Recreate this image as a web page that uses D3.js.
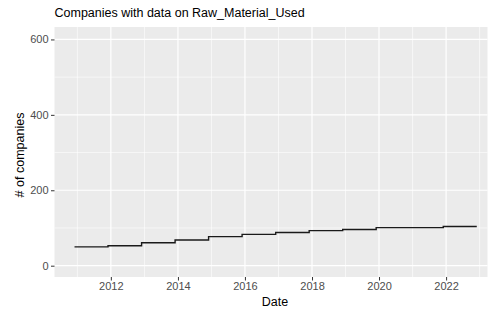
<!DOCTYPE html>
<html>
<head>
<meta charset="utf-8">
<script src="https://cdn.jsdelivr.net/npm/d3@7"></script>
<style>
  body { margin: 0; background: #fff; }
  svg { display: block; font-family: "Liberation Sans", Arial, sans-serif; }
</style>
</head>
<body>
<div id="chart"></div>
<script>
// step dates (count changes each December), last row closes the line
const dates = ["2010-12-01", "2011-12-01", "2012-12-01", "2013-12-01", "2014-12-01", "2015-12-01",
    "2016-12-01", "2017-12-01", "2018-12-01", "2019-12-01", "2020-12-01", "2021-12-01", "2022-12-01"];
const counts = [50, 53, 61, 68, 77, 83, 88, 93, 96, 101, 101, 104, 104];

const yTicks = [0, 200, 400, 600];
const yMinor = [100, 300, 500];
const xTickYears = [2012, 2014, 2016, 2018, 2020, 2022];
const xMinorYears = [2011, 2013, 2015, 2017, 2019, 2021, 2023];

const W = 489, H = 314;
const panel = { left: 54.5, right: 487.5, top: 27, bottom: 277 };

const parse = d3.timeParse("%Y-%m-%d");
const data = dates.map((d, i) => ({ date: parse(d), n: counts[i] }));

const svg = d3.select("#chart").append("svg")
    .attr("width", W)
    .attr("height", H);

const x = d3.scaleTime()
    .domain([new Date(2010, 3, 27), new Date(2023, 2, 28)])
    .range([panel.left, panel.right]);

const y = d3.scaleLinear()
    .domain([-30, 633])
    .range([panel.bottom, panel.top]);

// panel background
svg.append("rect")
    .attr("x", panel.left)
    .attr("y", panel.top)
    .attr("width", panel.right - panel.left)
    .attr("height", panel.bottom - panel.top)
    .attr("fill", "#ebebeb");

const grid = svg.append("g");

grid.selectAll(".ymin").data(yMinor).enter().append("line")
    .attr("x1", panel.left).attr("x2", panel.right)
    .attr("y1", d => y(d)).attr("y2", d => y(d))
    .attr("stroke", "#fff").attr("stroke-width", 0.6);

grid.selectAll(".xmin").data(xMinorYears).enter().append("line")
    .attr("x1", d => x(new Date(d, 0, 1))).attr("x2", d => x(new Date(d, 0, 1)))
    .attr("y1", panel.top).attr("y2", panel.bottom)
    .attr("stroke", "#fff").attr("stroke-width", 0.6);

grid.selectAll(".ymaj").data(yTicks).enter().append("line")
    .attr("x1", panel.left).attr("x2", panel.right)
    .attr("y1", d => y(d)).attr("y2", d => y(d))
    .attr("stroke", "#fff").attr("stroke-width", 1.2);

grid.selectAll(".xmaj").data(xTickYears).enter().append("line")
    .attr("x1", d => x(new Date(d, 0, 1))).attr("x2", d => x(new Date(d, 0, 1)))
    .attr("y1", panel.top).attr("y2", panel.bottom)
    .attr("stroke", "#fff").attr("stroke-width", 1.2);

// the line
const line = d3.line()
    .x(d => x(d.date))
    .y(d => y(d.n))
    .curve(d3.curveStepAfter);

svg.append("path")
    .datum(data)
    .attr("d", line)
    .attr("fill", "none")
    .attr("stroke", "#1a1a1a")
    .attr("stroke-width", 1.4);

// axes
const xAxis = svg.append("g")
    .attr("transform", `translate(0,${panel.bottom})`)
    .call(d3.axisBottom(x)
        .tickValues(xTickYears.map(d => new Date(d, 0, 1)))
        .tickFormat(d3.timeFormat("%Y"))
        .tickSize(3.5)
        .tickPadding(2));

const yAxis = svg.append("g")
    .attr("transform", `translate(${panel.left},0)`)
    .call(d3.axisLeft(y)
        .tickValues(yTicks)
        .tickSize(3.5)
        .tickPadding(2.5));

[xAxis, yAxis].forEach(a => {
    a.select(".domain").remove();
    a.selectAll(".tick line").attr("stroke", "#333").attr("stroke-width", 1);
    a.selectAll(".tick text")
        .attr("fill", "#4d4d4d")
        .style("font-size", "11px")
        .style("font-family", "'Liberation Sans', Arial, sans-serif");
});

// titles
svg.append("text")
    .attr("x", panel.left)
    .attr("y", 17)
    .attr("fill", "#000")
    .style("font-size", "12.5px")
    .text("Companies with data on Raw_Material_Used");

svg.append("text")
    .attr("x", 275)
    .attr("y", 305.5)
    .attr("text-anchor", "middle")
    .attr("fill", "#000")
    .style("font-size", "12.5px")
    .text("Date");

svg.append("text")
    .attr("transform", `translate(24,${(panel.top + panel.bottom) / 2 + 3}) rotate(-90)`)
    .attr("text-anchor", "middle")
    .attr("fill", "#000")
    .style("font-size", "12.5px")
    .text("# of companies");
</script>
</body>
</html>
